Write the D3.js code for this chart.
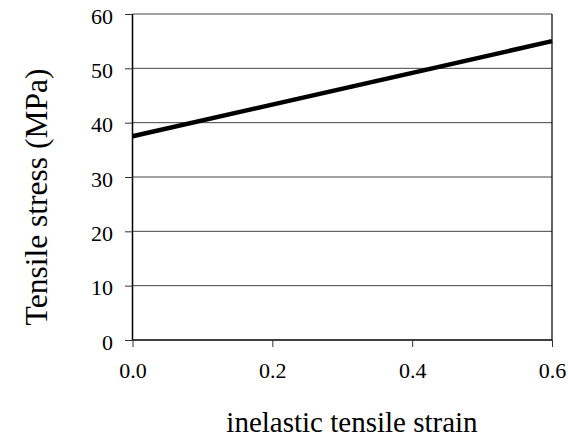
<!DOCTYPE html>
<html>
<head>
<meta charset="utf-8">
<script src="https://cdn.jsdelivr.net/npm/d3@7"></script>
<style>
  body { margin: 0; background: #fff; }
  text { font-family: "Liberation Serif", "Times New Roman", serif; fill: #000; }
</style>
</head>
<body>
<script>
(function () {
  'use strict';

  const strain = [0.0, 0.6];
  const stress = [37.5, 55.0];
  const xTicks = [0.0, 0.2, 0.4, 0.6];
  const yTicks = [0, 10, 20, 30, 40, 50, 60];

  const W = 568, H = 441;
  const margin = { left: 132.5, top: 14, right: 16, bottom: 101 };
  const width = W - margin.left - margin.right;
  const height = H - margin.top - margin.bottom;

  const svg = d3.select('body').append('svg')
    .attr('width', W).attr('height', H);

  const g = svg.append('g')
    .attr('transform', `translate(${margin.left},${margin.top})`);

  const x = d3.scaleLinear().domain([0, 0.6]).range([0, width]);
  const y = d3.scaleLinear().domain([0, 60]).range([height, 0]);

  // gridlines
  g.append('g').selectAll('line')
    .data(yTicks.filter(d => d > 0))
    .enter().append('line')
    .attr('x1', 0).attr('x2', width)
    .attr('y1', d => y(d)).attr('y2', d => y(d))
    .attr('stroke', '#444').attr('stroke-width', 1);

  // right border
  g.append('line')
    .attr('x1', width).attr('x2', width)
    .attr('y1', 0).attr('y2', height)
    .attr('stroke', '#000').attr('stroke-width', 1.2);

  const yAxis = d3.axisLeft(y).tickValues(yTicks).tickSize(7.5).tickPadding(12)
    .tickFormat(d3.format('d'));
  const ya = g.append('g').call(yAxis);
  ya.select('.domain').attr('stroke-width', 1.5).attr('d', `M0,${height}V0`);
  ya.selectAll('text').style('font-size', '22px').attr('dy', '0.42em');

  const xAxis = d3.axisBottom(x).tickValues(xTicks).tickSize(7).tickPadding(15.5)
    .tickFormat(d3.format('.1f'));
  const xa = g.append('g').attr('transform', `translate(0,${height})`).call(xAxis);
  xa.select('.domain').attr('stroke-width', 1.5).attr('d', `M0,0H${width}`);
  xa.selectAll('text').style('font-size', '22px');
  xa.selectAll('line').attr('stroke', '#333');
  ya.selectAll('line').attr('stroke', '#333');

  const line = d3.line()
    .x((d, i) => x(strain[i]))
    .y(d => y(d));

  g.append('path')
    .attr('d', line(stress))
    .attr('fill', 'none')
    .attr('stroke', '#000')
    .attr('stroke-width', 4.5);

  svg.append('text')
    .attr('x', 352)
    .attr('y', 432)
    .attr('text-anchor', 'middle')
    .style('font-size', '29px')
    .text('inelastic tensile strain');

  svg.append('text')
    .attr('transform', 'translate(46.5,197) rotate(-90)')
    .attr('text-anchor', 'middle')
    .style('font-size', '31.5px')
    .text('Tensile stress (MPa)');
})();
</script>
</body>
</html>
